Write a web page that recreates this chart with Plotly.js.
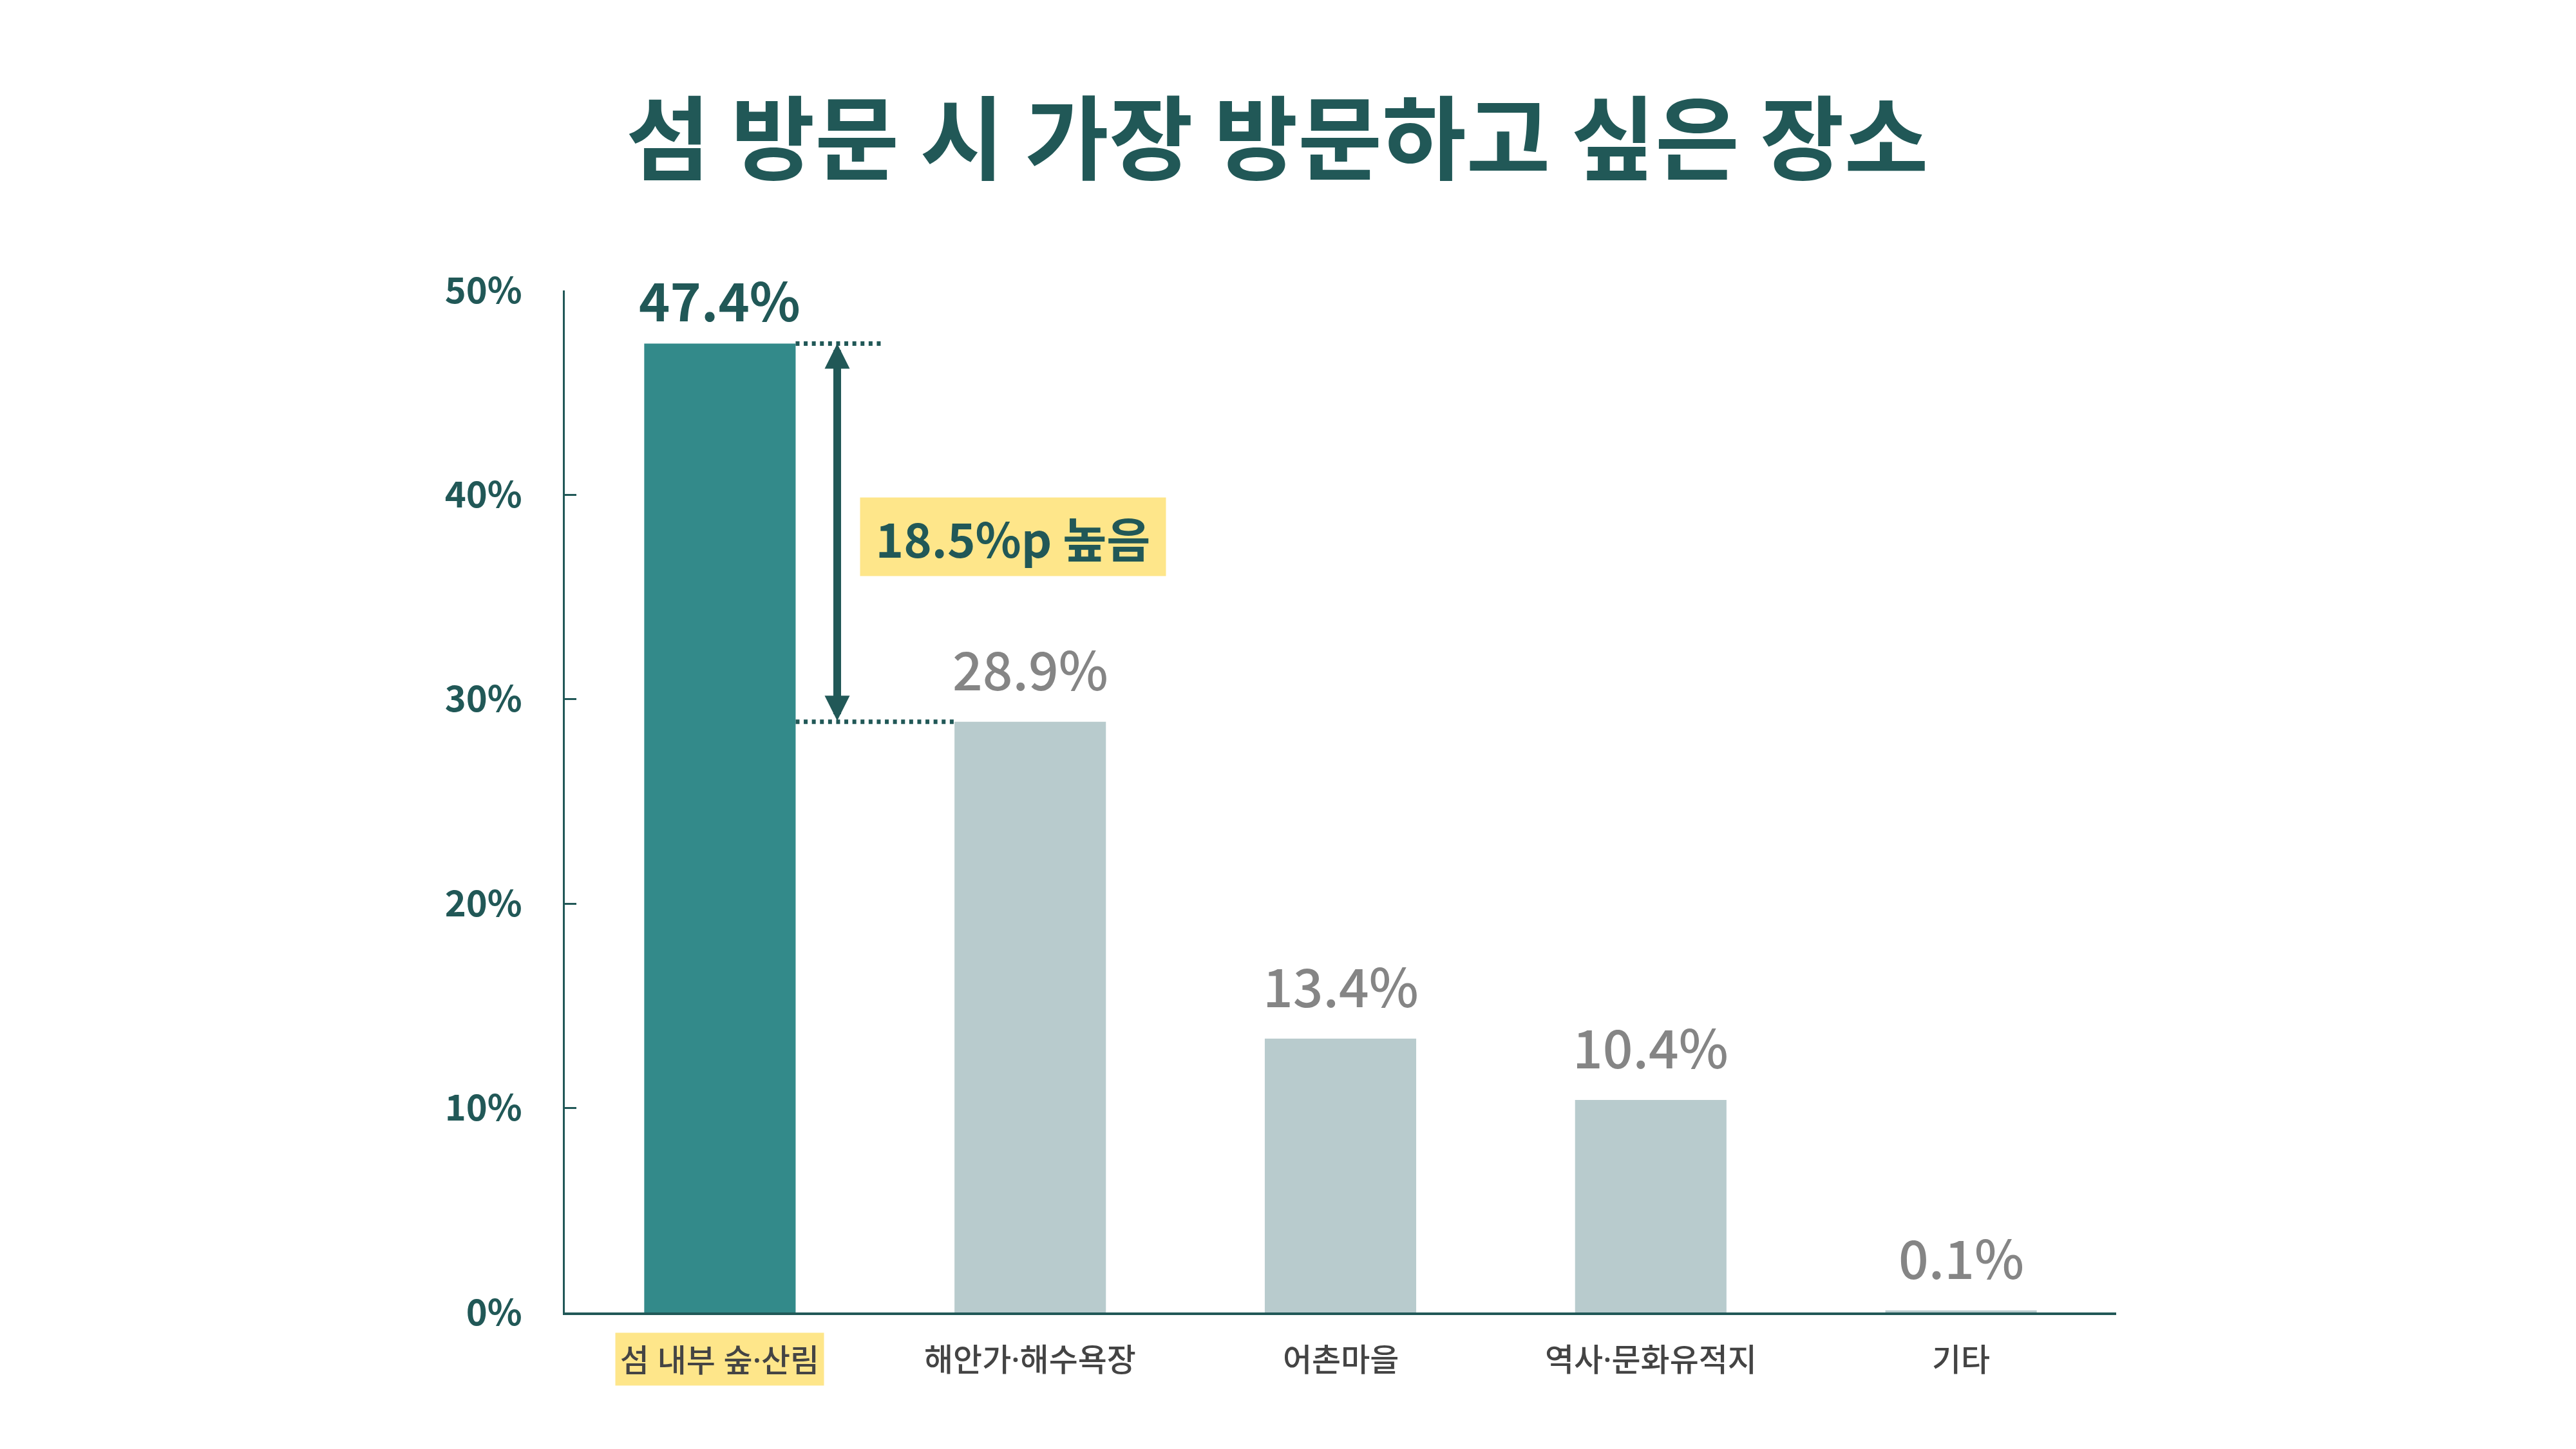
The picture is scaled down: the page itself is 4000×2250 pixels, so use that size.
<!DOCTYPE html>
<html>
<head>
<meta charset="utf-8">
<script src="https://cdn.plot.ly/plotly-3.0.1.min.js"></script>
<style>
  html, body { margin: 0; padding: 0; background: #ffffff; }
  #chart { width: 4000px; height: 2250px; }
</style>
</head>
<body>
<div id="chart"></div>
<script>
// data
const categories = ["섬 내부 숲·산림", "해안가·해수욕장", "어촌마을", "역사·문화유적지", "기타"];
const shares = [47.4, 28.9, 13.4, 10.4, 0.1];
const tickValues = [0, 10, 20, 30, 40, 50];
const tickLabels = ["0%", "10%", "20%", "30%", "40%", "50%"];
const gapLabel = "18.5%p 높음";

const darkGreen = "#215857";
const teal = "#338a8a";
const paleBar = "#b8cbcd";
const grayText = "#858585";
const yellow = "#fee68a";
const font = "'Noto Sans CJK KR', 'Noto Sans', sans-serif";
// latin first so the middle dot stays narrow, hangul falls back to CJK
const labelFont = "'Noto Sans', 'Noto Sans CJK KR', sans-serif";

const highlight = 0; // the bar that gets picked out
const barGap = 0.512;
const halfBar = (1 - barGap) / 2;

let barColors = shares.map((v, i) => i === highlight ? teal : paleBar);

let barTrace = {
    type: "bar",
    x: categories,
    y: shares,
    marker: { color: barColors },
    hoverinfo: "x+y",
    showlegend: false
};

// value labels above each bar
let valueNotes = shares.map((v, i) => ({
    x: categories[i],
    y: v,
    xref: "x",
    yref: "y",
    text: i === highlight ? "<b>" + v.toFixed(1) + "%</b>" : v.toFixed(1) + "%",
    showarrow: false,
    yanchor: "middle",
    yshift: i === highlight ? 70 : 84,
    font: { family: font, size: 82, color: i === highlight ? darkGreen : grayText, weight: i === highlight ? 700 : 500 }
}));

// category labels under the axis, the first one on a yellow tag
let categoryNotes = categories.map((c, i) => {
    let note = {
        x: c,
        y: 0,
        xref: "x",
        yref: "y",
        text: c,
        showarrow: false,
        yanchor: "middle",
        yshift: -72,
        font: { family: labelFont, size: 49, color: "#444444", weight: 500 }
    };
    if (i === highlight) {
        note.bgcolor = yellow;
        note.width = 323;
        note.height = 81;
        note.borderpad = 0;
    }
    return note;
});

let topShare = shares[highlight];
let secondShare = shares[1];
let arrowX = highlight + 0.378;

// double headed arrow between the two bar tops
let arrowNote = {
    x: arrowX,
    y: topShare,
    ax: arrowX,
    ay: secondShare,
    xref: "x",
    yref: "y",
    axref: "x",
    ayref: "y",
    text: "",
    showarrow: true,
    arrowside: "end+start",
    arrowhead: 2,
    startarrowhead: 2,
    arrowsize: 0.65,
    startarrowsize: 0.65,
    arrowwidth: 12,
    arrowcolor: darkGreen
};

let gapNote = {
    x: highlight + 0.45,
    y: (topShare + secondShare) / 2,
    xref: "x",
    yref: "y",
    xanchor: "left",
    yanchor: "middle",
    yshift: -6,
    text: "<b>" + gapLabel + "</b>",
    showarrow: false,
    bgcolor: yellow,
    borderpad: 0,
    width: 474,
    height: 121,
    font: { family: font, size: 74, color: darkGreen, weight: 700 }
};

// dotted guides from the bar tops
let guideLine = { color: darkGreen, width: 7, dash: "6px,6.6px" };
let guides = [
    {
        type: "line", xref: "x", yref: "y",
        x0: highlight + halfBar, x1: highlight + 0.525, y0: topShare, y1: topShare,
        line: guideLine
    },
    {
        type: "line", xref: "x", yref: "y",
        x0: highlight + halfBar, x1: 1 - halfBar, y0: secondShare, y1: secondShare,
        line: guideLine
    }
];

let layout = {
    width: 4000,
    height: 2250,
    paper_bgcolor: "#ffffff",
    plot_bgcolor: "#ffffff",
    margin: { l: 877, r: 714, t: 451, b: 212 },
    bargap: barGap,
    title: {
        text: "<b>섬 방문 시 가장 방문하고 싶은 장소</b>",
        font: { family: font, size: 142, color: darkGreen, weight: 900 },
        x: 0.4958,
        xref: "container",
        xanchor: "center",
        y: 1 - 218 / 2250,
        yref: "container",
        yanchor: "middle"
    },
    xaxis: {
        type: "category",
        range: [-0.5, 4.5],
        showticklabels: false,
        ticks: "",
        showgrid: false,
        zeroline: false,
        showline: true,
        linecolor: darkGreen,
        linewidth: 4,
        fixedrange: true
    },
    yaxis: {
        range: [0, 50],
        tickvals: tickValues,
        ticktext: tickLabels,
        ticks: "inside",
        ticklen: 18,
        tickwidth: 3,
        tickcolor: darkGreen,
        tickfont: { family: font, size: 56, color: darkGreen, weight: 600 },
        ticklabelstandoff: 52,
        showgrid: false,
        zeroline: false,
        showline: true,
        linecolor: darkGreen,
        linewidth: 3,
        fixedrange: true
    },
    shapes: guides,
    annotations: valueNotes.concat(categoryNotes, [arrowNote, gapNote])
};

Plotly.newPlot("chart", [barTrace], layout, { displayModeBar: false, staticPlot: true });
</script>
</body>
</html>
